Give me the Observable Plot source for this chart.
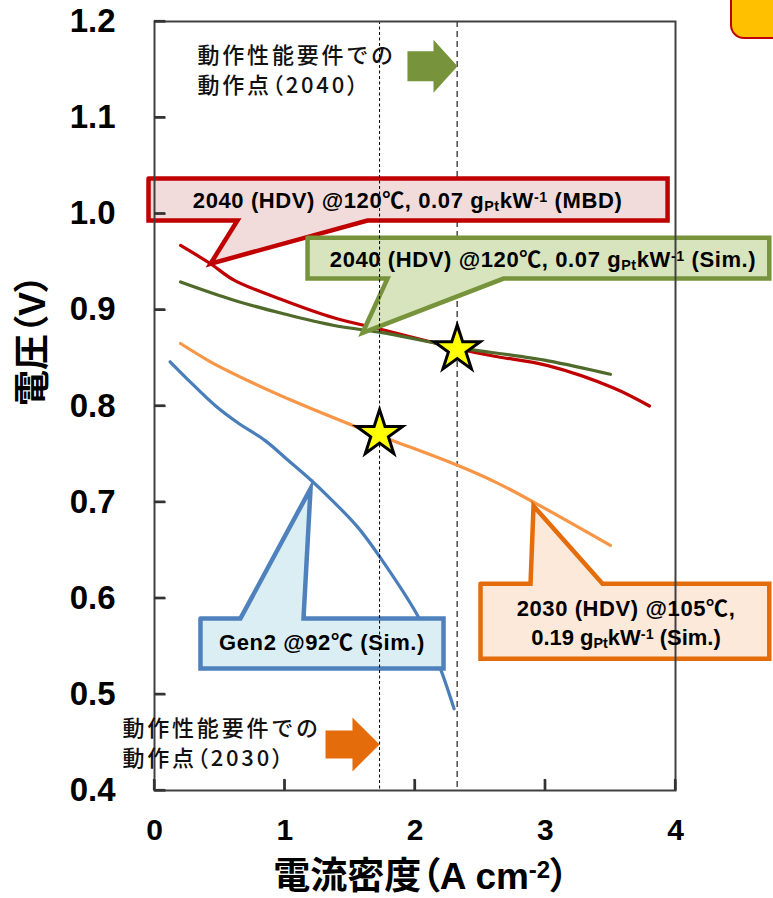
<!DOCTYPE html>
<html><head><meta charset="utf-8">
<script src="https://cdn.jsdelivr.net/npm/d3@7"></script>
<script src="https://cdn.jsdelivr.net/npm/@observablehq/plot@0.6"></script>
<style>
body{margin:0;background:#fff;}
#wrap{position:relative;width:773px;height:898px;overflow:hidden;}
#badge{position:absolute;left:730px;top:-30px;width:80px;height:65px;background:#ffc000;border:2px solid #c00000;border-radius:14px;}
</style></head><body><div id="wrap"></div>
<script>
// ---- axis ticks ----
const xTicks = [0, 1, 2, 3, 4];
const yTicks = [0.4, 0.5, 0.6, 0.7, 0.8, 0.9, 1.0, 1.1, 1.2];

// ---- series (current density A/cm2, voltage V) ----
const mbd2040X = [0.20, 0.43, 0.61, 0.99, 1.37, 1.76, 2.17, 2.32, 2.60, 3.02, 3.52, 3.80];
const mbd2040Y = [0.967, 0.948, 0.931, 0.910, 0.892, 0.879, 0.865, 0.860, 0.852, 0.842, 0.819, 0.800];
const sim2040X = [0.20, 0.61, 0.99, 1.37, 1.76, 2.17, 2.32, 3.02, 3.50];
const sim2040Y = [0.929, 0.910, 0.896, 0.884, 0.876, 0.865, 0.861, 0.847, 0.833];
const sim2030X = [0.20, 0.43, 0.74, 1.12, 1.50, 1.81, 2.33, 2.63, 2.91, 3.50];
const sim2030Y = [0.865, 0.846, 0.825, 0.802, 0.781, 0.765, 0.738, 0.720, 0.700, 0.655];
const gen2X = [0.12, 0.26, 0.47, 0.645, 0.85, 1.03, 1.20, 1.34, 1.56, 1.735, 2.04, 2.20, 2.30];
const gen2Y = [0.846, 0.827, 0.800, 0.782, 0.764, 0.743, 0.723, 0.705, 0.674, 0.642, 0.577, 0.525, 0.485];

// ---- operating points ----
const opCurrent = [1.728, 2.324];
const opVoltage = [0.771, 0.859];

// ---- labels ----
const seriesKeys = ["gen2", "sim2030", "mbd2040", "sim2040"];
const seriesColors = ["#4a7ebb", "#f79646", "#c00000", "#4f6a2a"];
const calloutLabels = [
  "2040 (HDV) @120℃, 0.07 g_{Pt}kW^{-1} (MBD)",
  "2040 (HDV) @120℃, 0.07 g_{Pt}kW^{-1} (Sim.)",
  "Gen2 @92℃ (Sim.)",
  "2030 (HDV) @105℃,",
  "0.19 g_{Pt}kW^{-1} (Sim.)"
];
const noteLabels = ["動作性能要件での", "動作点（2040）", "動作性能要件での", "動作点（2030）"];
const xLabel = "電流密度（A cm^{-2}）";
const yLabel = "電圧（V）";

// ---- layout config (data units) ----
const callouts = [
  {box: [-0.046, 3.939, 1.0367, 0.993], side: "bottom", base: [0.637, 1.635], tip: [0.43, 0.948], fill: "#f2dcdb", stroke: "#c00000"},
  {box: [1.175, 4.72, 0.975, 0.9326], side: "bottom", base: [1.789, 2.68], tip: [1.597, 0.876], fill: "#d7e4bd", stroke: "#77933c"},
  {box: [0.353, 2.219, 0.579, 0.527], side: "top", base: [0.66, 1.144], tip: [1.198, 0.714], fill: "#dbeef4", stroke: "#4f81bd"},
  {box: [2.503, 4.72, 0.615, 0.537], side: "top", base: [2.887, 3.44], tip: [2.91, 0.696], fill: "#fde9d9", stroke: "#e46c0a"}
];
const calloutTextPos = [[1.943, 1.0138], [2.983, 0.952], [1.286, 0.553], [3.62, 0.589], [3.62, 0.559]];
const notePos = [[0.33, 1.1646], [0.33, 1.1334], [-0.246, 0.4645], [-0.246, 0.4333]];
const arrows = [
  {x0: 1.942, neck: 2.142, tip: 2.326, yc: 1.1535, body: 0.0156, head: 0.0276, fill: "#77933c"},
  {x0: 1.313, neck: 1.520, tip: 1.728, yc: 0.4479, body: 0.0146, head: 0.0281, fill: "#e46c0a"}
];
const tickLenX = 0.085;  // inward y-axis tick length, in x units
const tickLenY = 0.0115; // inward x-axis tick length, in y units

// ---- build tables ----
const seriesData = [
  ["gen2", gen2X, gen2Y], ["sim2030", sim2030X, sim2030Y], ["mbd2040", mbd2040X, mbd2040Y], ["sim2040", sim2040X, sim2040Y]
].flatMap(([k, xs, ys]) => xs.map((x, i) => ({series: k, x, y: ys[i]})));
const stars = opCurrent.map((x, i) => ({x, y: opVoltage[i]}));
const tickSegs = [
  ...yTicks.map(v => ({x1: 0, x2: tickLenX, y1: v, y2: v})),
  ...xTicks.map(v => ({x1: v, x2: v, y1: 0.4, y2: 0.4 + tickLenY}))
];

function calloutPoly(c) {
  const [x0, x1, yt, yb] = c.box;
  let pts;
  if (c.side === "bottom") {
    pts = [[x0, yt], [x1, yt], [x1, yb], [c.base[1], yb], c.tip, [c.base[0], yb], [x0, yb]];
  } else {
    pts = [[x0, yt], [c.base[0], yt], c.tip, [c.base[1], yt], [x1, yt], [x1, yb], [x0, yb]];
  }
  pts.push(pts[0]);
  return pts.map(([x, y]) => ({x, y}));
}
function arrowPoly(a) {
  const pts = [[a.x0, a.yc + a.body], [a.neck, a.yc + a.body], [a.neck, a.yc + a.head], [a.tip, a.yc],
    [a.neck, a.yc - a.head], [a.neck, a.yc - a.body], [a.x0, a.yc - a.body]];
  pts.push(pts[0]);
  return pts.map(([x, y]) => ({x, y}));
}

const latin = "'Liberation Sans', 'Noto Sans CJK JP', sans-serif";
const cjk = "'Noto Sans CJK JP', sans-serif";

const chart = Plot.plot({
  width: 773, height: 898,
  marginLeft: 154, marginRight: 98, marginTop: 21, marginBottom: 108,
  x: {domain: [0, 4]},
  y: {domain: [0.4, 1.2]},
  color: {domain: seriesKeys, range: seriesColors},
  style: {fontFamily: latin, background: "transparent", color: "#000"},
  marks: [
    Plot.ruleX([opCurrent[1]], {stroke: "#555", strokeWidth: 1.6, strokeDasharray: "6,4"}),
    Plot.line(seriesData, {x: "x", y: "y", z: "series", stroke: "series", strokeWidth: 3.2, curve: "catmull-rom"}),
    ...callouts.map(c => Plot.line(calloutPoly(c), {x: "x", y: "y", fill: c.fill, stroke: c.stroke, strokeWidth: 4.5, strokeLinejoin: "miter", strokeMiterlimit: 10, curve: "linear"})),
    ...arrows.map(a => Plot.line(arrowPoly(a), {x: "x", y: "y", fill: a.fill, stroke: "none", curve: "linear"})),
    Plot.ruleX([opCurrent[0]], {stroke: "#000", strokeWidth: 1, strokeDasharray: "3,2.5"}),
    Plot.frame({stroke: "#404040", strokeWidth: 2}),
    Plot.axisY({ticks: yTicks, tickSize: 0, tickPadding: 39, tickFormat: d3.format(".1f"), fontSize: 33, fontWeight: "bold", label: null}),
    Plot.axisX({ticks: xTicks, tickSize: 0, tickPadding: 28, tickFormat: d => String(d), fontSize: 30, fontWeight: "bold", label: null}),
    Plot.text(calloutLabels, {x: (d, i) => calloutTextPos[i][0], y: (d, i) => calloutTextPos[i][1], text: d => d, fontSize: 22, fontWeight: "bold", fill: "#000"}),
    Plot.text(noteLabels, {x: (d, i) => notePos[i][0], y: (d, i) => notePos[i][1], text: d => d, textAnchor: "start", fontSize: 22, fontWeight: 500, fontFamily: cjk, fill: "#111"}),
    Plot.dot(stars, {x: "x", y: "y", symbol: "star", r: 14.5, fill: "#ffff00", stroke: "#000", strokeWidth: 3, strokeLinejoin: "miter"}),
    Plot.text([xLabel], {frameAnchor: "bottom", dy: 98, dx: 6, text: d => d, fontSize: 37, fontWeight: "bold", fontFamily: latin}),
    Plot.text([yLabel], {frameAnchor: "left", dx: -121, rotate: -90, text: d => d, fontSize: 36, fontWeight: "bold", fontFamily: latin}),
    Plot.link(tickSegs, {x1: "x1", y1: "y1", x2: "x2", y2: "y2", stroke: "#333", strokeWidth: 2.2})
  ]
});

// inward ticks drawn again through the plot's own scales
const sx = chart.scale("x"), sy = chart.scale("y");
const tg = d3.select(chart).append("g").attr("stroke", "#333").attr("stroke-width", 2.2);
tickSegs.forEach(s => {
  tg.append("line")
    .attr("x1", sx.apply(s.x1)).attr("x2", sx.apply(s.x2))
    .attr("y1", sy.apply(s.y1)).attr("y2", sy.apply(s.y2));
});

const SVGNS = "http://www.w3.org/2000/svg";
chart.querySelectorAll("text").forEach(t => {
  const s = t.textContent;
  if (s.includes("動作")) t.setAttribute("letter-spacing", "2.8px");
  if (s.includes("（")) t.style.fontFeatureSettings = '"palt"';
  if (s.includes("@")) t.setAttribute("letter-spacing", "0.6px");
  if (!/[_^]\{/.test(s)) return;
  while (t.firstChild) t.removeChild(t.firstChild);
  const re = /([_^])\{([^}]*)\}|([^_^]+)/g;
  let m;
  while ((m = re.exec(s))) {
    const ts = document.createElementNS(SVGNS, "tspan");
    if (m[3] !== undefined) ts.textContent = m[3];
    else {
      ts.textContent = m[2];
      ts.setAttribute("font-size", "65%");
      ts.setAttribute("baseline-shift", m[1] === "_" ? "-20%" : "45%");
    }
    t.appendChild(ts);
  }
});

const wrap = document.getElementById("wrap");
wrap.appendChild(chart);
const badge = document.createElement("div");
badge.id = "badge";
wrap.appendChild(badge);
</script></body></html>
